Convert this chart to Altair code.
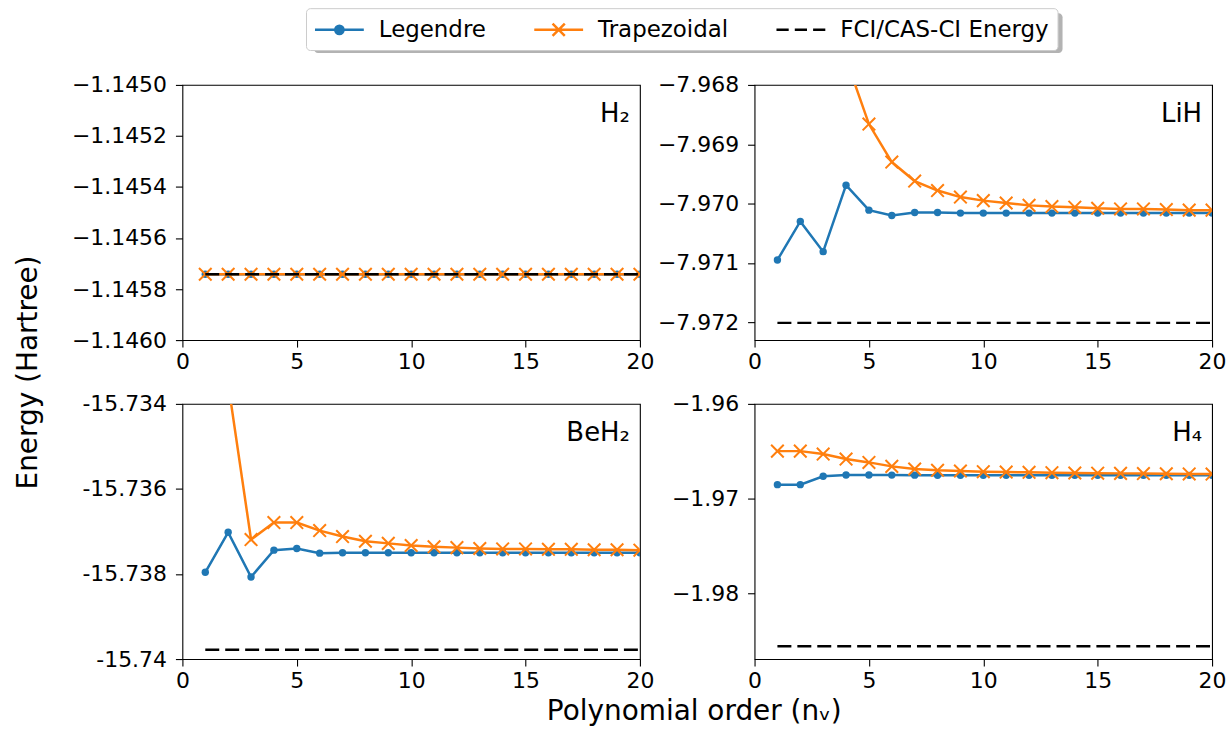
import altair as alt
import pandas as pd

# ---------------- data ----------------
n_order = [1, 2, 3, 4, 5, 6, 7, 8, 9, 10, 11, 12, 13, 14, 15, 16, 17, 18, 19, 20]
SERIES = ["Legendre", "Trapezoidal", "FCI/CAS-CI Energy"]
COLORS = ["#1f77b4", "#ff7f0e", "#000000"]

h2_leg = [-1.145742, -1.145742, -1.145742, -1.145742, -1.145742, -1.145742, -1.145742,
          -1.145742, -1.145742, -1.145742, -1.145742, -1.145742, -1.145742, -1.145742,
          -1.145742, -1.145742, -1.145742, -1.145742, -1.145742, -1.145742]
h2_trap = [-1.145742, -1.145742, -1.145742, -1.145742, -1.145742, -1.145742, -1.145742,
           -1.145742, -1.145742, -1.145742, -1.145742, -1.145742, -1.145742, -1.145742,
           -1.145742, -1.145742, -1.145742, -1.145742, -1.145742, -1.145742]
h2_fci = [-1.145742, -1.145742, -1.145742, -1.145742, -1.145742, -1.145742, -1.145742,
          -1.145742, -1.145742, -1.145742, -1.145742, -1.145742, -1.145742, -1.145742,
          -1.145742, -1.145742, -1.145742, -1.145742, -1.145742, -1.145742]

lih_leg = [-7.97095, -7.97030, -7.97081, -7.96969, -7.97011, -7.97020, -7.97015, -7.97015,
           -7.97016, -7.97016, -7.97016, -7.97016, -7.97016, -7.97016, -7.97016, -7.97016,
           -7.97016, -7.97016, -7.97016, -7.97016]
lih_trap = [-7.95700, -7.96250, -7.96570, -7.96756, -7.96866, -7.96930, -7.96962, -7.96978,
            -7.96989, -7.96995, -7.96999, -7.97003, -7.97005, -7.97006, -7.97008, -7.97009,
            -7.97009, -7.97010, -7.97011, -7.97011]
lih_fci = [-7.97201, -7.97201, -7.97201, -7.97201, -7.97201, -7.97201, -7.97201, -7.97201,
           -7.97201, -7.97201, -7.97201, -7.97201, -7.97201, -7.97201, -7.97201, -7.97201,
           -7.97201, -7.97201, -7.97201, -7.97201]

beh2_leg = [-15.73796, -15.73702, -15.73807, -15.73744, -15.73740, -15.73751, -15.73750,
            -15.73750, -15.73750, -15.73750, -15.73750, -15.73750, -15.73750, -15.73750,
            -15.73750, -15.73750, -15.73750, -15.73750, -15.73750, -15.73750]
beh2_trap = [-15.72650, -15.73352, -15.73719, -15.73679, -15.73679, -15.73698, -15.73712,
             -15.73723, -15.73728, -15.73733, -15.73736, -15.73738, -15.73740, -15.73741,
             -15.73741, -15.73742, -15.73742, -15.73743, -15.73743, -15.73744]
beh2_fci = [-15.73978, -15.73978, -15.73978, -15.73978, -15.73978, -15.73978, -15.73978,
            -15.73978, -15.73978, -15.73978, -15.73978, -15.73978, -15.73978, -15.73978,
            -15.73978, -15.73978, -15.73978, -15.73978, -15.73978, -15.73978]

h4_leg = [-1.96853, -1.96853, -1.96765, -1.96751, -1.96751, -1.96752, -1.96753, -1.96754,
          -1.96754, -1.96755, -1.96755, -1.96755, -1.96755, -1.96755, -1.96755, -1.96755,
          -1.96755, -1.96755, -1.96755, -1.96755]
h4_trap = [-1.96499, -1.96499, -1.96530, -1.96583, -1.96618, -1.96660, -1.96688, -1.96702,
           -1.96709, -1.96716, -1.96720, -1.96723, -1.96727, -1.96730, -1.96732, -1.96734,
           -1.96736, -1.96738, -1.96740, -1.96741]
h4_fci = [-1.98561, -1.98561, -1.98561, -1.98561, -1.98561, -1.98561, -1.98561, -1.98561,
          -1.98561, -1.98561, -1.98561, -1.98561, -1.98561, -1.98561, -1.98561, -1.98561,
          -1.98561, -1.98561, -1.98561, -1.98561]

panel_names = ["H\u2082", "LiH", "BeH\u2082", "H\u2084"]
y_domains = [[-1.1460, -1.1450], [-7.9723, -7.968], [-15.740, -15.734], [-1.98695, -1.96]]
y_ticks = [
    [-1.1460, -1.1458, -1.1456, -1.1454, -1.1452, -1.1450],
    [-7.972, -7.971, -7.970, -7.969, -7.968],
    [-15.740, -15.738, -15.736, -15.734],
    [-1.98, -1.97, -1.96],
]
x_ticks = [0, 5, 10, 15, 20]

MINUS = "\u2212"
label_exprs = [
    "replace(format(datum.value, '.4f'), '-', '" + MINUS + "')",
    "replace(format(datum.value, '.3f'), '-', '" + MINUS + "')",
    "replace(format(datum.value, '.3~f'), '" + MINUS + "', '-')",
    "replace(format(datum.value, '.2f'), '-', '" + MINUS + "')",
]

W, H = 459, 256
FONT = "DejaVu Sans"

# legend symbols: line + marker drawn as one custom path
SYM_LEG = "M-2,0L2,0M-0.34,0A0.34,0.34,0,1,1,0.34,0A0.34,0.34,0,1,1,-0.34,0Z"
SYM_TRAP = "M-2,0L2,0M-0.5,-0.5L0.5,0.5M-0.5,0.5L0.5,-0.5"
SYM_FCI = "M-2,0L-1,0M-0.5,0L0.5,0M1,0L2,0"
X_MARK = "M-1,-1L1,1M-1,1L1,-1"

legend = alt.Legend(
    title=None, orient="none", legendX=124, legendY=-77, direction="horizontal",
    columns=3, symbolSize=600, symbolStrokeWidth=2.5, symbolOffset=12,
    labelFontSize=23, labelFont=FONT, labelColor="black", labelOffset=26,
    labelLimit=500, columnPadding=43, padding=8, strokeColor="#cccccc",
    fillColor="white", cornerRadius=4,
)


def make_panel(idx, leg, trap, fci, ytitle=False, xtitle=False, shadow=False):
    rows = []
    for s, vals in zip(SERIES, [leg, trap, fci]):
        for n, v in zip(n_order, vals):
            rows.append({"series": s, "n": n, "E": v})
    df = pd.DataFrame(rows)
    base = alt.Chart(df)

    x_axis_kw = dict(values=x_ticks, labelFlush=False, labelPadding=5, format="d")
    if xtitle:
        x_axis_kw.update(title="Polynomial order (n\u1d65)", titleX=513, titleY=61,
                         titleAlign="center", titleBaseline="alphabetic")
    else:
        x_axis_kw.update(title=None)
    y_axis_kw = dict(values=y_ticks[idx], labelExpr=label_exprs[idx], labelFlush=False,
                     labelPadding=9)
    if ytitle:
        y_axis_kw.update(title="Energy (Hartree)", titleX=-146, titleY=288,
                         titleAlign="center", titleBaseline="alphabetic", titleAngle=270)
    else:
        y_axis_kw.update(title=None)

    x = alt.X("n:Q", scale=alt.Scale(domain=[0, 20], nice=False, zero=False),
              axis=alt.Axis(**x_axis_kw))
    y = alt.Y("E:Q", scale=alt.Scale(domain=y_domains[idx], nice=False, zero=False),
              axis=alt.Axis(**y_axis_kw))

    layers = []
    if shadow:
        layers.append(
            alt.Chart(pd.DataFrame({"k": [0]})).mark_rect(
                color="#b3b3b3", cornerRadius=4, clip=False).encode(
                x=alt.value(132), x2=alt.value(883), y=alt.value(-72), y2=alt.value(-32))
        )

    leg_line = base.transform_filter(alt.datum.series == SERIES[0]).mark_line(
        color=COLORS[0], strokeWidth=2.5, clip=True).encode(x=x, y=y)
    leg_pts = base.transform_filter(alt.datum.series == SERIES[0]).mark_circle(
        color=COLORS[0], size=55, opacity=1, clip=True).encode(x=x, y=y)
    trap_line = base.transform_filter(alt.datum.series == SERIES[1]).mark_line(
        color=COLORS[1], strokeWidth=2.5, clip=True).encode(x=x, y=y)
    trap_pts = base.transform_filter(alt.datum.series == SERIES[1]).mark_point(
        shape=X_MARK, color=COLORS[1], size=160, strokeWidth=2, opacity=1, filled=False,
        clip=True).encode(x=x, y=y)
    fci_line = base.transform_filter(alt.datum.series == SERIES[2]).mark_line(
        color=COLORS[2], strokeWidth=2.5, strokeDash=[14, 6], clip=True).encode(x=x, y=y)

    leg_layer = base.transform_filter("false").mark_point(
        filled=True, opacity=1, strokeWidth=2.5, size=600).encode(
        x=x, y=y,
        fill=alt.Fill("series:N", scale=alt.Scale(domain=SERIES, range=COLORS), legend=legend),
        stroke=alt.Stroke("series:N", scale=alt.Scale(domain=SERIES, range=COLORS), legend=legend),
        shape=alt.Shape("series:N", scale=alt.Scale(domain=SERIES, range=[SYM_LEG, SYM_TRAP, SYM_FCI]),
                        legend=legend),
    )

    label = alt.Chart(pd.DataFrame({"label": [panel_names[idx]]})).mark_text(
        align="right", baseline="alphabetic", fontSize=26, font=FONT, color="black").encode(
        x=alt.value(W - 10), y=alt.value(37), text="label:N")

    layers += [leg_line, leg_pts, trap_line, trap_pts, fci_line, leg_layer, label]
    return alt.layer(*layers).properties(width=W, height=H)


tl = make_panel(0, h2_leg, h2_trap, h2_fci, ytitle=True, shadow=True)
tr = make_panel(1, lih_leg, lih_trap, lih_fci)
bl = make_panel(2, beh2_leg, beh2_trap, beh2_fci, xtitle=True)
br = make_panel(3, h4_leg, h4_trap, h4_fci)

chart = alt.concat(tl, tr, bl, br, columns=2, spacing={"row": 64, "column": 115},
                   bounds="flush").properties(
    padding={"left": 14, "top": 6, "right": 3, "bottom": 6}
).configure(font=FONT).configure_view(
    stroke="black", strokeWidth=1.1
).configure_axis(
    labelFont=FONT, labelFontSize=22, labelColor="black", tickColor="black",
    tickSize=7, tickWidth=1.1, domain=False, grid=False, titleFont=FONT,
    titleFontSize=28, titleColor="black", titleFontWeight="normal", labelOverlap=False,
)

chart.save("out.html", embed_options={"renderer": "svg", "actions": False})
